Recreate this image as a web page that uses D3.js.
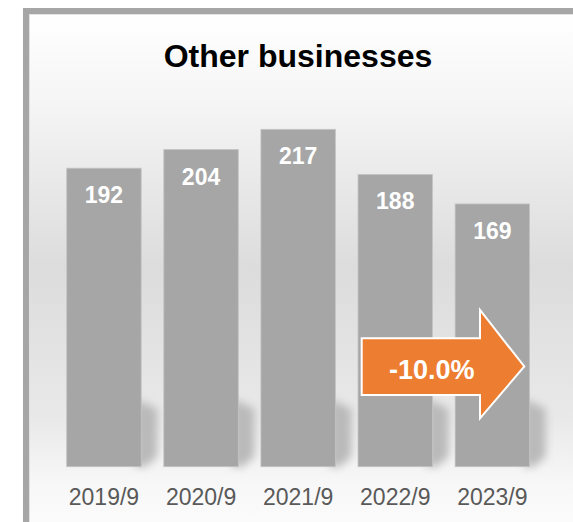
<!DOCTYPE html>
<html>
<head>
<meta charset="utf-8">
<script src="https://cdn.jsdelivr.net/npm/d3@7/dist/d3.min.js"></script>
<style>
  html, body { margin: 0; padding: 0; background: #ffffff; }
  svg { display: block; font-family: "Liberation Sans", Arial, sans-serif; }
</style>
</head>
<body>
<svg id="chart" width="573" height="522"></svg>
<script>
// Fiscal periods and values for the "Other businesses" segment
const periods = ["2019/9", "2020/9", "2021/9", "2022/9", "2023/9"];
const values = [192, 204, 217, 188, 169];
const chartTitle = "Other businesses";
const changeLabel = "-10.0%";

const svg = d3.select("#chart");
const defs = svg.append("defs");

// Soft vertical wash behind the bars
const bg = defs.append("linearGradient")
  .attr("id", "bgGrad")
  .attr("gradientUnits", "userSpaceOnUse")
  .attr("x1", 0).attr("y1", 14).attr("x2", 0).attr("y2", 522);
[[0, "#ffffff"], [0.16, "#f6f6f6"], [0.5, "#dcdcdc"], [0.8, "#e9e9e9"], [0.92, "#f7f7f7"], [1, "#fbfbfb"]]
  .forEach(([o, c]) => bg.append("stop").attr("offset", o).attr("stop-color", c));

defs.append("filter").attr("id", "soft")
  .attr("x", "-50%").attr("y", "-50%").attr("width", "200%").attr("height", "200%")
  .append("feGaussianBlur").attr("stdDeviation", 4.5);

// Frame
svg.append("rect").attr("x", 26).attr("y", 11).attr("width", 560).attr("height", 530)
  .attr("fill", "url(#bgGrad)").attr("stroke", "#a6a6a6").attr("stroke-width", 6);
svg.append("rect").attr("x", 29.5).attr("y", 14.5).attr("width", 560).attr("height", 530)
  .attr("fill", "none").attr("stroke", "#e2e2e2").attr("stroke-width", 1);

// Scales
const x = d3.scaleBand().domain(periods).range([55.4, 540.9])
  .paddingInner(0.233).paddingOuter(0.1165);
const y = d3.scaleLinear().domain([0, 250]).range([466.7, 466.7 - 250 * 1.5548]);

const data = periods.map((p, i) => ({ period: p, value: values[i] }));
const yb = y(0);

// Blurred floor shadows to the right of each bar
svg.append("g").selectAll("path").data(data).join("path")
  .attr("d", d => {
    const x1 = x(d.period) + x.bandwidth();
    return `M${x1 - 6},${yb - 68} L${x1 + 16},${yb - 58} L${x1 + 16},${yb - 10} L${x1 + 4},${yb} L${x1 - 6},${yb} Z`;
  })
  .attr("fill", "#bababa")
  .attr("filter", "url(#soft)");

// Bars
svg.append("g").selectAll("rect").data(data).join("rect")
  .attr("x", d => x(d.period))
  .attr("y", d => y(d.value))
  .attr("width", x.bandwidth())
  .attr("height", d => yb - y(d.value))
  .attr("fill", "#a6a6a6")
  .attr("stroke", "#c4c4c4")
  .attr("stroke-width", 0.8);

// Value labels inside the bars
svg.append("g").selectAll("text").data(data).join("text")
  .attr("x", d => x(d.period) + x.bandwidth() / 2)
  .attr("y", d => y(d.value) + 35)
  .attr("text-anchor", "middle")
  .attr("fill", "#ffffff")
  .attr("font-weight", "bold")
  .attr("font-size", 23)
  .text(d => d.value);

// Category axis labels
const xAxis = d3.axisBottom(x).tickSize(0).tickPadding(0);
const gx = svg.append("g").attr("transform", `translate(0,${yb})`).call(xAxis);
gx.select(".domain").remove();
gx.selectAll("text")
  .attr("y", 38.5).attr("dy", 0)
  .attr("fill", "#595959")
  .attr("font-size", 23)
  .attr("font-family", "Liberation Sans, Arial, sans-serif");

// Title
svg.append("text")
  .attr("x", 298).attr("y", 67)
  .attr("text-anchor", "middle")
  .attr("font-weight", "bold")
  .attr("font-size", 32)
  .attr("fill", "#000000")
  .text(chartTitle);

// Change arrow between the last two periods
const ax0 = 361.7, ax1 = 480, axTip = 524.3, acy = 366.5;
svg.append("path")
  .attr("d", `M${ax0},338.3 L${ax1},338.3 L${ax1},310 L${axTip},${acy} L${ax1},418.3 L${ax1},395 L${ax0},395 Z`)
  .attr("fill", "#ed7d31")
  .attr("stroke", "#ffffff")
  .attr("stroke-width", 2)
  .attr("stroke-linejoin", "miter");
svg.append("text")
  .attr("x", 431.7).attr("y", 378.5)
  .attr("text-anchor", "middle")
  .attr("font-weight", "bold")
  .attr("font-size", 27)
  .attr("fill", "#ffffff")
  .text(changeLabel);
</script>
</body>
</html>
